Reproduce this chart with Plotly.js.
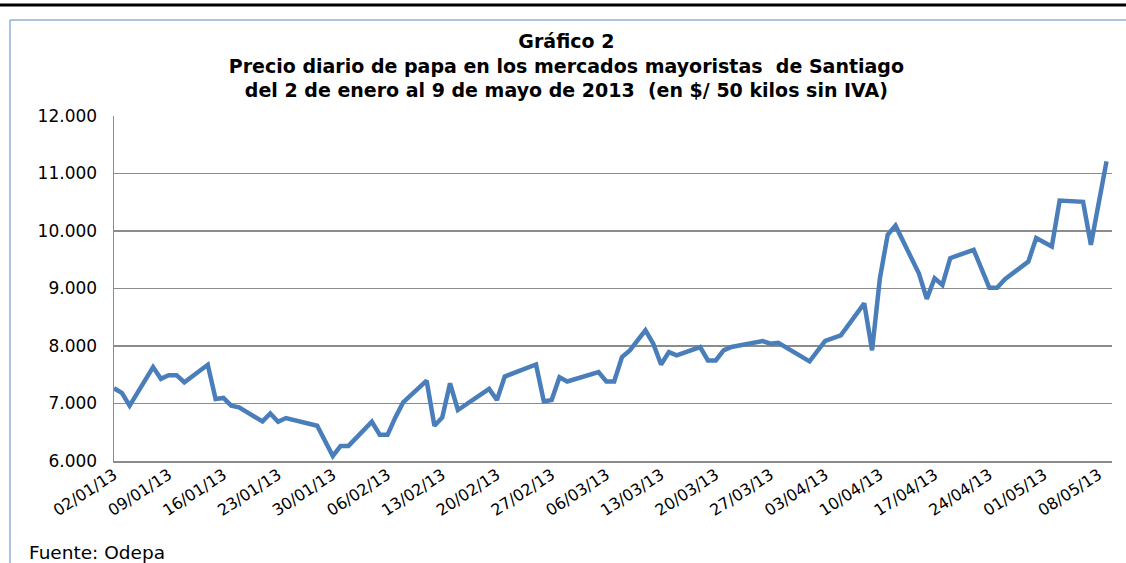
<!DOCTYPE html>
<html>
<head>
<meta charset="utf-8">
<script src="https://cdn.plot.ly/plotly-3.0.1.min.js"></script>
<style>html,body{margin:0;padding:0;background:#fff;}#chart{width:1126px;height:563px;}</style>
</head>
<body>
<div id="chart"></div>
<script>
// Fechas (días con dato) y precio diario ($ / 50 kilos sin IVA)
const fechas = [
  "2013-01-02","2013-01-03","2013-01-04","2013-01-07","2013-01-08","2013-01-09","2013-01-10","2013-01-11",
  "2013-01-14","2013-01-15","2013-01-16","2013-01-17","2013-01-18","2013-01-21","2013-01-22","2013-01-23",
  "2013-01-24","2013-01-28","2013-01-30","2013-01-31","2013-02-01","2013-02-04","2013-02-05","2013-02-06",
  "2013-02-07","2013-02-08","2013-02-11","2013-02-12","2013-02-13","2013-02-14","2013-02-15","2013-02-19",
  "2013-02-20","2013-02-21","2013-02-25","2013-02-26","2013-02-27","2013-02-28","2013-03-01","2013-03-05",
  "2013-03-06","2013-03-07","2013-03-08","2013-03-09","2013-03-11","2013-03-12","2013-03-13","2013-03-14",
  "2013-03-15","2013-03-18","2013-03-19","2013-03-20","2013-03-21","2013-03-22","2013-03-26","2013-03-27",
  "2013-03-28","2013-04-01","2013-04-03","2013-04-05","2013-04-08","2013-04-09","2013-04-10","2013-04-11",
  "2013-04-12","2013-04-15","2013-04-16","2013-04-17","2013-04-18","2013-04-19","2013-04-22","2013-04-24",
  "2013-04-25","2013-04-26","2013-04-29","2013-04-30","2013-05-02","2013-05-03","2013-05-06","2013-05-07",
  "2013-05-09"
];
const precios = [
  7265,7184,6962,7633,7429,7493,7493,7370,
  7673,7079,7096,6962,6933,6688,6828,6682,
  6747,6612,6087,6262,6262,6682,6455,6455,
  6758,7020,7399,6612,6758,7352,6887,7254,
  7062,7469,7679,7037,7062,7457,7382,7545,
  7382,7382,7807,7924,8274,8041,7679,7894,
  7837,7982,7749,7749,7924,7982,8087,8041,
  8055,7732,8087,8187,8741,7924,9178,9936,
  10093,9260,8820,9178,9061,9528,9673,9014,
  9014,9160,9469,9878,9731,10530,10508,9761,
  11210
];
const tituloLineas = [
  "Gráfico 2",
  "Precio diario de papa en los mercados mayoristas  de Santiago",
  "del 2 de enero al 9 de mayo de 2013  (en $/ 50 kilos sin IVA)"
];
const fuente = "Fuente: Odepa";

// pixel helpers for frame decorations (paper coords)
const L = 114, R = 1112, T = 116, B = 460.7;
const px = x => (x - L) / (R - L);
const py = y => (B - y) / (B - T);

const trace = {
  x: fechas, y: precios, type: "scatter", mode: "lines",
  line: {color: "#4a7ebb", width: 4.5},
  hoverinfo: "x+y"
};

const layout = {
  width: 1126, height: 563,
  margin: {l: L, r: 1126 - R, t: T, b: 563 - B},
  paper_bgcolor: "#fff", plot_bgcolor: "#fff",
  separators: ",.",
  showlegend: false,
  font: {family: "DejaVu Sans", color: "#000"},
  title: {
    text: "<b>" + tituloLineas.join("<br>") + "</b>",
    font: {family: "DejaVu Sans", size: 19, color: "#000"},
    x: 0.503, xanchor: "center", yref: "container", y: 1 - 48/563, yanchor: "top"
  },
  xaxis: {
    type: "date",
    range: ["2013-01-02", "2013-05-09 16:48"],
    tick0: "2013-01-02", dtick: 7 * 86400000,
    tickformat: "%d/%m/%y", tickangle: -33,
    tickfont: {family: "DejaVu Sans", size: 16, color: "#000"},
    ticklabelstandoff: -3,
    showgrid: false, zeroline: false,
    showline: true, linecolor: "#8c8c8c", linewidth: 1.5,
    ticks: "", fixedrange: true
  },
  yaxis: {
    range: [6000, 12000], dtick: 1000, tick0: 6000,
    tickformat: ",",
    tickfont: {family: "DejaVu Sans", size: 17, color: "#000"},
    ticklabelstandoff: 12,
    showgrid: true, gridcolor: "#8c8c8c", gridwidth: 1.2,
    zeroline: false, showline: true, linecolor: "#8c8c8c", linewidth: 1.5,
    ticks: "", fixedrange: true
  },
  shapes: [
    {type: "line", xref: "paper", yref: "paper", x0: px(0), x1: px(1126), y0: py(5), y1: py(5),
     line: {color: "#000", width: 3}},
    {type: "line", xref: "paper", yref: "paper", x0: px(10), x1: px(1126), y0: py(20), y1: py(20),
     line: {color: "#8fb0d9", width: 1.5}},
    {type: "line", xref: "paper", yref: "paper", x0: px(10), x1: px(10), y0: py(20), y1: py(563),
     line: {color: "#8fb0d9", width: 1.5}}
  ],
  annotations: [
    {text: fuente, xref: "paper", yref: "paper", x: px(27), y: py(552),
     xanchor: "left", yanchor: "middle", showarrow: false,
     font: {family: "DejaVu Sans", size: 18.5, color: "#000"}}
  ]
};

Plotly.newPlot("chart", [trace], layout, {displayModeBar: false, staticPlot: true});
</script>
</body>
</html>
